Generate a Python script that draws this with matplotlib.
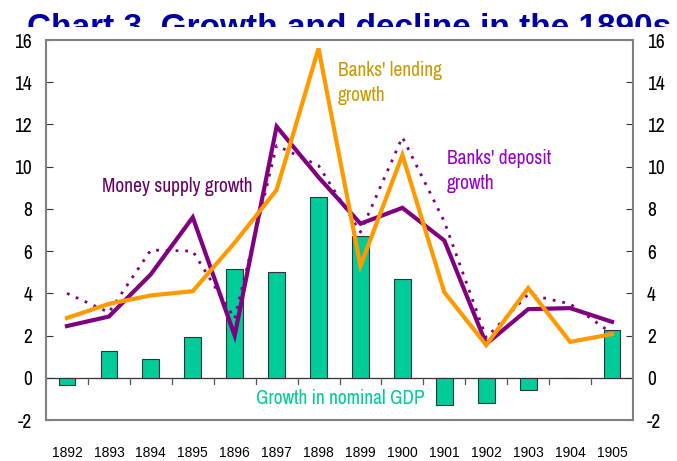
import numpy as np
import matplotlib
matplotlib.use("Agg")
import matplotlib.pyplot as plt
from matplotlib.transforms import Bbox, TransformedBbox

years = ["1892", "1893", "1894", "1895", "1896", "1897", "1898",
         "1899", "1900", "1901", "1902", "1903", "1904", "1905"]
money_supply = [2.45, 2.9, 4.9, 7.6, 2.0, 11.9, 9.5, 7.3, 8.05, 6.5, 1.6, 3.25, 3.3, 2.65]
deposits = [4.0, 3.1, 6.05, 6.0, 2.8, 11.0, 10.05, 6.9, 11.4, 7.4, 1.9, 3.95, 3.5, 2.1]
lending = [2.83, 3.5, 3.9, 4.1, 6.4, 8.9, 15.6, 5.3, 10.55, 4.05, 1.55, 4.25, 1.7, 2.07]
gdp = [-0.35, 1.29, 0.9, 1.95, 5.17, 5.03, 8.55, 6.7, 4.7, -1.27, -1.2, -0.6, 0.0, 2.26]
yticks = [-2, 0, 2, 4, 6, 8, 10, 12, 14, 16]

narrow = ["Archivo Narrow", "DejaVu Sans"]
regular = ["Liberation Sans", "DejaVu Sans"]
purple = "#800080"
orange = "#FF9900"
green = "#00CC99"

fig = plt.figure(figsize=(6.77, 4.61), dpi=100)

# title, cut off at the bottom like the original
title = fig.text(27 / 677, 1 - 13 / 461, "Chart 3. Growth and decline in the 1890s",
                 fontsize=24, fontweight="bold", color="#0000A0", fontfamily=regular,
                 va="top", ha="left", zorder=1)
title.set_clip_box(TransformedBbox(Bbox([[0, 1 - 27 / 461], [1, 1]]), fig.transFigure))
title.set_clip_on(True)

ax = fig.add_axes([46 / 677, 41 / 461, 587 / 677, 380 / 461])
x = np.arange(len(years))

ax.bar(x, gdp, width=0.4, color=green, edgecolor="#333333", linewidth=0.8, zorder=2)
ax.plot(x, deposits, color=purple, lw=2, ls=(0, (1, 2.5)), zorder=3)
ax.plot(x, money_supply, color=purple, lw=3, zorder=4, solid_joinstyle="miter")
ax.plot(x, lending, color=orange, lw=3, zorder=5, solid_joinstyle="miter")

ax.axhline(0, color="#333333", lw=0.9, zorder=1)
for b in np.arange(0.5, len(years) - 1, 1):
    ax.plot([b, b], [0, -0.3], color="#555555", lw=0.9, zorder=1)

ax.set_xlim(-0.5, len(years) - 0.5)
ax.set_ylim(-2, 16)
ax.set_xticks(x)
ax.set_xticklabels(years, fontsize=10, fontfamily=regular)
ax.tick_params(axis="x", length=0, pad=19)
ax.set_yticks(yticks)
ax.set_yticklabels([str(v) for v in yticks], fontsize=14, fontfamily=narrow)
ax.tick_params(axis="y", direction="in", length=5, color="#333333",
               left=True, right=True, labelleft=True, labelright=True, pad=10)
for sp in ax.spines.values():
    sp.set_color("#808080")
    sp.set_linewidth(1.5)

lab = dict(fontsize=14, fontfamily=narrow, va="center", linespacing=1.45)
ax.text(0.84, 9.06, "Money supply growth", color="#660066", **lab)
ax.text(6.46, 13.96, "Banks' lending\ngrowth", color="#CC9900", **lab)
ax.text(9.06, 9.79, "Banks' deposit\ngrowth", color="#9900CC", **lab)
ax.text(4.51, -0.99, "Growth in nominal GDP", color=green, **lab)

fig.savefig("out.png", dpi=100)
